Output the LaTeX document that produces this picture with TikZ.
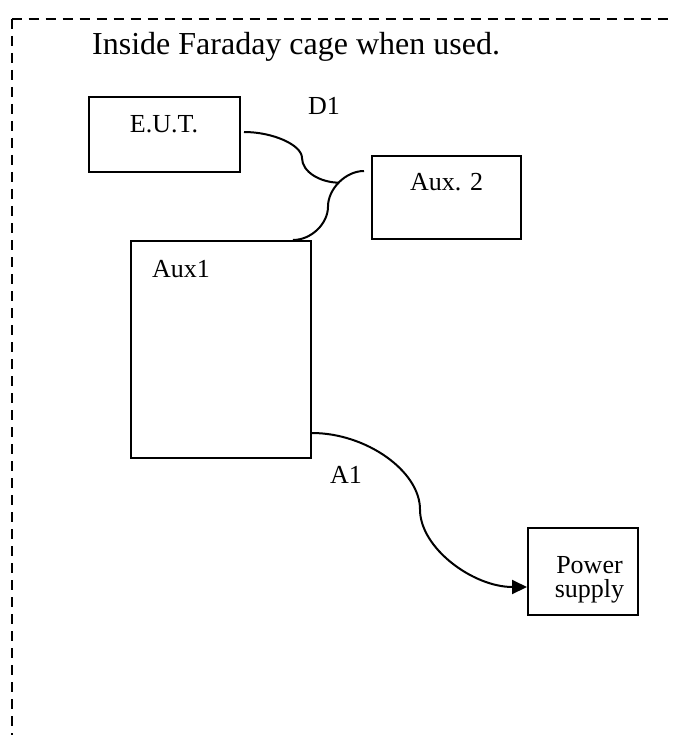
\documentclass[tikz,border=0pt]{standalone}
\usepackage{fontspec}
\setmainfont{Liberation Serif}
\usetikzlibrary{arrows.meta,calc}
\begin{document}
\begin{tikzpicture}[x=1pt,y=-1pt,
  box/.style={draw,line width=2pt,rectangle,inner sep=0pt},
  lbl/.style={font=\fontsize{26}{24}\selectfont,inner sep=0pt},
  cable/.style={line width=2pt},
  cage/.style={line width=2pt,dash pattern=on 10pt off 7pt}]
\useasboundingbox (0,0) rectangle (674,735);

% cage outline (open at the right and bottom)
\coordinate (corner) at (11.5,19);
\draw[cage] (corner) -- (674,19);
\draw[cage] (corner) -- (11.5,735);

\node[font=\fontsize{32}{38}\selectfont,anchor=base west,inner sep=0pt] (title) at (92,55) {Inside Faraday cage when used.};

% equipment boxes
\node[box,minimum width=151pt,minimum height=75pt] (eut) at (164.5,134.5) {};
\node[box,minimum width=149pt,minimum height=83pt] (aux2) at (446.5,197.5) {};
\node[box,minimum width=180pt,minimum height=217pt] (aux1) at (221,349.5) {};
\node[box,minimum width=110pt,minimum height=87pt] (psu) at (583,571.5) {};

% box texts
\node[lbl,anchor=base] (eutlbl) at (164,133) {E.U.T.};
\node[lbl,anchor=base west] (aux2lbl) at (410,191) {Aux. 2};
\node[lbl,anchor=base west] (aux1lbl) at (152,277) {Aux1};
\node[lbl,align=center] (psulbl) at (589.5,580) {Power\\supply};

% cable labels
\node[lbl,anchor=base west] (d1) at (308,115) {D1};
\node[lbl,anchor=base west] (a1) at (330,483) {A1};

% cable from Aux. 2 to Aux1
\draw[cable] ($(aux2.north west)+(-7,16)$)
  .. controls +(-18.5,0) and +(0,-17.5) .. (328,206.5)
  .. controls +(0,17.5) and +(18,0) .. ($(aux1.north east)+(-19,0)$);
% junction of the D1 cable onto that cable
\coordinate (j) at (339.5,182.7);
% D1 cable from E.U.T.
\draw[cable] ($(eut.east)+(3,-2.5)$)
  .. controls +(29,0) and +(0,-13) .. (302,158)
  .. controls +(0,14) and +(-19,0) .. (j);

% A1 cable from Aux1 to the power supply
\draw[cable,-{Triangle[length=15pt,width=14pt]}] ($(aux1.south east)+(0,-26)$)
  .. controls +(54,0) and +(0,-38.5) .. (420,509.5)
  .. controls +(0,38.5) and +(-54,0) .. ($(psu.west)+(0,15.5)$);
\end{tikzpicture}
\end{document}
